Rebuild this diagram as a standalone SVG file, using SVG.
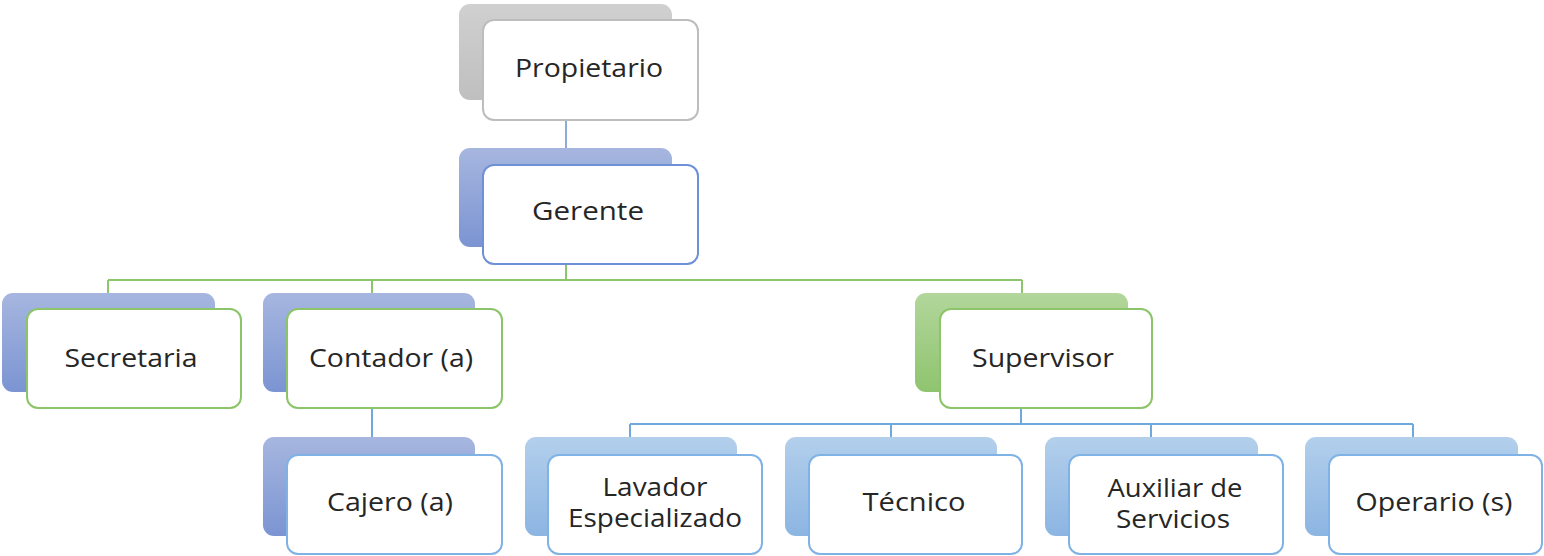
<svg xmlns="http://www.w3.org/2000/svg" width="1544" height="556" viewBox="0 0 1544 556">
<defs>
<linearGradient id="gGray" x1="0" y1="0" x2="0" y2="1"><stop offset="0" stop-color="#d0d0d0"/><stop offset="1" stop-color="#bfbfbf"/></linearGradient>
<linearGradient id="gBlue" x1="0" y1="0" x2="0" y2="1"><stop offset="0" stop-color="#a6b6df"/><stop offset="1" stop-color="#7b94d2"/></linearGradient>
<linearGradient id="gGreen" x1="0" y1="0" x2="0" y2="1"><stop offset="0" stop-color="#b2d69b"/><stop offset="1" stop-color="#8fc46f"/></linearGradient>
<linearGradient id="gLight" x1="0" y1="0" x2="0" y2="1"><stop offset="0" stop-color="#b3cfec"/><stop offset="1" stop-color="#8cb5e2"/></linearGradient>
<style>
.back{stroke:none}
.front{fill:#ffffff;stroke-width:2}
.fgray{stroke:#bdbdbd}
.fblue{stroke:#6f90d6}
.fgreen{stroke:#8cc569}
.flight{stroke:#7fb2e5}
text{font-family:"Open Sans","Liberation Sans",sans-serif;font-size:25px;fill:#262626;text-anchor:middle}
.c{fill:none;stroke-width:2}
</style>
</defs>
<g id="connectors">
<path class="c" stroke="#8eaadb" d="M566 120V165"/>
<path class="c" stroke="#8cc56a" d="M566 264V280M108 280H1022M108 280V293M372 280V293M1022 280V293"/>
<path class="c" stroke="#6fa8dc" d="M372 408V437"/>
<path class="c" stroke="#6fa8dc" d="M1021 408V424M630 424H1413M630 424V437M891 424V437M1151 424V437M1413 424V437"/>
</g>
<g id="propietario">
<rect class="back" x="459" y="4" width="213" height="96" rx="11" fill="url(#gGray)"/>
<rect class="front fgray" x="483" y="20" width="215" height="100" rx="11"/>
<text x="589" y="77" textLength="148" lengthAdjust="spacingAndGlyphs">Propietario</text>
</g>
<g id="gerente">
<rect class="back" x="459" y="148" width="213" height="99" rx="11" fill="url(#gBlue)"/>
<rect class="front fblue" x="483" y="165" width="215" height="99" rx="11"/>
<text x="588" y="220" textLength="112" lengthAdjust="spacingAndGlyphs">Gerente</text>
</g>
<g id="secretaria">
<rect class="back" x="2" y="293" width="213" height="99" rx="11" fill="url(#gBlue)"/>
<rect class="front fgreen" x="27" y="309" width="214" height="99" rx="11"/>
<text x="131" y="367" textLength="133" lengthAdjust="spacingAndGlyphs">Secretaria</text>
</g>
<g id="contador">
<rect class="back" x="263" y="293" width="212" height="99" rx="11" fill="url(#gBlue)"/>
<rect class="front fgreen" x="287" y="309" width="215" height="99" rx="11"/>
<text x="391" y="367" textLength="164" lengthAdjust="spacingAndGlyphs">Contador (a)</text>
</g>
<g id="supervisor">
<rect class="back" x="915" y="293" width="213" height="99" rx="11" fill="url(#gGreen)"/>
<rect class="front fgreen" x="940" y="309" width="212" height="99" rx="11"/>
<text x="1043" y="367" textLength="142" lengthAdjust="spacingAndGlyphs">Supervisor</text>
</g>
<g id="cajero">
<rect class="back" x="263" y="437" width="212" height="99" rx="11" fill="url(#gBlue)"/>
<rect class="front flight" x="287" y="455" width="215" height="99" rx="11"/>
<text x="390" y="511" textLength="126" lengthAdjust="spacingAndGlyphs">Cajero (a)</text>
</g>
<g id="lavador">
<rect class="back" x="525" y="437" width="212" height="99" rx="11" fill="url(#gLight)"/>
<rect class="front flight" x="548" y="455" width="214" height="99" rx="11"/>
<text x="655" y="496" textLength="105" lengthAdjust="spacingAndGlyphs">Lavador</text>
<text x="655" y="527" textLength="174" lengthAdjust="spacingAndGlyphs">Especializado</text>
</g>
<g id="tecnico">
<rect class="back" x="785" y="437" width="212" height="99" rx="11" fill="url(#gLight)"/>
<rect class="front flight" x="809" y="455" width="213" height="99" rx="11"/>
<text x="914" y="511" textLength="103" lengthAdjust="spacingAndGlyphs">Técnico</text>
</g>
<g id="auxiliar">
<rect class="back" x="1045" y="437" width="213" height="99" rx="11" fill="url(#gLight)"/>
<rect class="front flight" x="1069" y="455" width="214" height="99" rx="11"/>
<text x="1175" y="497" textLength="135" lengthAdjust="spacingAndGlyphs">Auxiliar de</text>
<text x="1173" y="528" textLength="114" lengthAdjust="spacingAndGlyphs">Servicios</text>
</g>
<g id="operario">
<rect class="back" x="1305" y="437" width="213" height="99" rx="11" fill="url(#gLight)"/>
<rect class="front flight" x="1329" y="455" width="213" height="99" rx="11"/>
<text x="1434" y="511" textLength="157" lengthAdjust="spacingAndGlyphs">Operario (s)</text>
</g>
</svg>
